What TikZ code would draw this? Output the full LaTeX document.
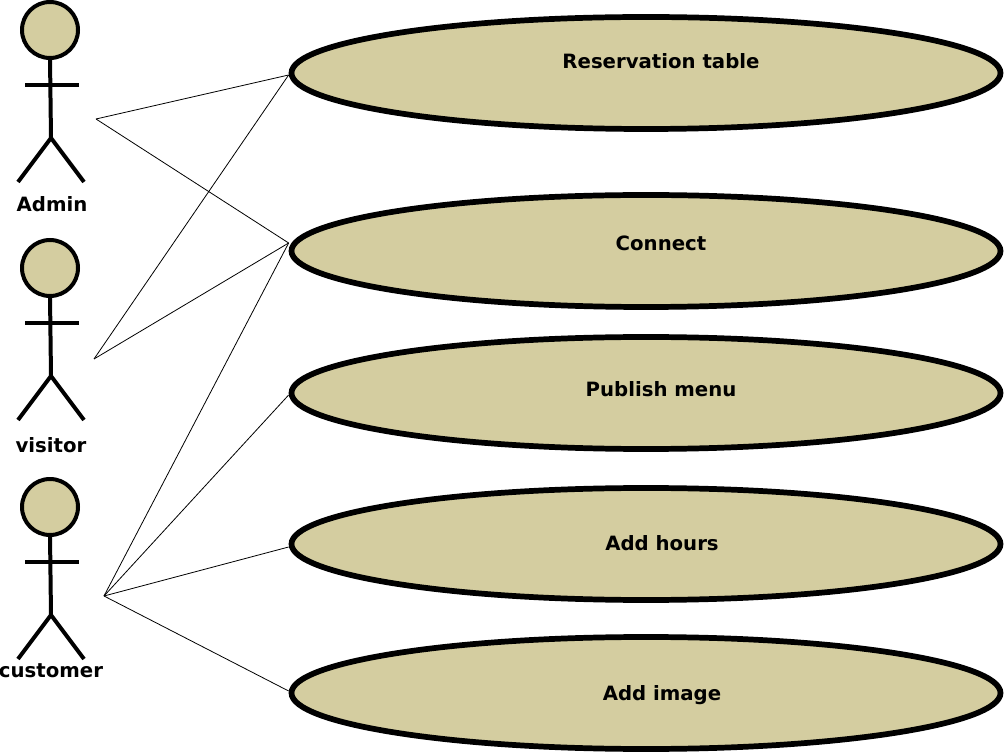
\documentclass[tikz,border=0pt]{standalone}
\usepackage{fontspec}
\setmainfont{DejaVu Sans}
\usetikzlibrary{shapes.geometric}
\definecolor{khakifill}{RGB}{212,205,160}
\newcommand{\pxu}{*0.0264cm}
\tikzset{
  usecase/.style={ellipse,draw=black,fill=khakifill,line width=4.3pt,minimum width=709\pxu,minimum height=112\pxu,inner sep=0pt},
  caselabel/.style={font=\bfseries\fontsize{14.8pt}{18pt}\selectfont,anchor=center},
  actorlabel/.style={font=\bfseries\fontsize{14.8pt}{18pt}\selectfont,anchor=center},
  limb/.style={line width=3pt},
  link/.style={line width=0.6pt},
  pics/stickman/.style={code={
    \draw[limb,fill=khakifill] (0,0) circle (28\pxu);
    \draw[limb] (0,-28\pxu) -- (1\pxu,-108\pxu);
    \draw[limb] (-25\pxu,-55\pxu) -- (29\pxu,-55\pxu);
    \draw[limb] (-32\pxu,-152\pxu) -- (1\pxu,-108\pxu) -- (34\pxu,-152\pxu);
  }}
}
\begin{document}
\begin{tikzpicture}[x=0.0264cm,y=-0.0264cm]
\useasboundingbox (0,0) rectangle (1004,752);
% actors
\pic at (50,30) {stickman};
\pic at (50,268) {stickman};
\pic at (50,507) {stickman};
\node[actorlabel] (admin) at (52,204) {Admin};
\node[actorlabel] (visitor) at (51,445) {visitor};
\node[actorlabel] (customer) at (51,671) {customer};
\coordinate (adminhand) at (96,119);
\coordinate (visitorhand) at (94,359);
\coordinate (customerhand) at (104,596);

% use cases
\node[usecase] (reservation) at (646,73) {};
\node[usecase] (connect) at (646,251) {};
\node[usecase] (publish) at (646,393) {};
\node[usecase] (hours) at (646,544) {};
\node[usecase] (image) at (646,693) {};
\node[caselabel] (reservationtxt) at (661,61) {Reservation table};
\node[caselabel] (connecttxt) at (661,243) {Connect};
\node[caselabel] (publishtxt) at (661,389) {Publish menu};
\node[caselabel] (hourstxt) at (662,543) {Add hours};
\node[caselabel] (imagetxt) at (662,695) {Add image};

% connectors
\draw[link] (adminhand) -- ([yshift=-2\pxu]reservation.west);
\draw[link] (adminhand) -- ([yshift=8\pxu]connect.west);
\draw[link] (visitorhand) -- ([yshift=-2\pxu]reservation.west);
\draw[link] (visitorhand) -- ([yshift=8\pxu]connect.west);
\draw[link] (customerhand) -- ([yshift=8\pxu]connect.west);
\draw[link] (customerhand) -- ([yshift=-2\pxu]publish.west);
\draw[link] (customerhand) -- ([yshift=-3\pxu]hours.west);
\draw[link] (customerhand) -- ([yshift=2\pxu]image.west);
\end{tikzpicture}
\end{document}
